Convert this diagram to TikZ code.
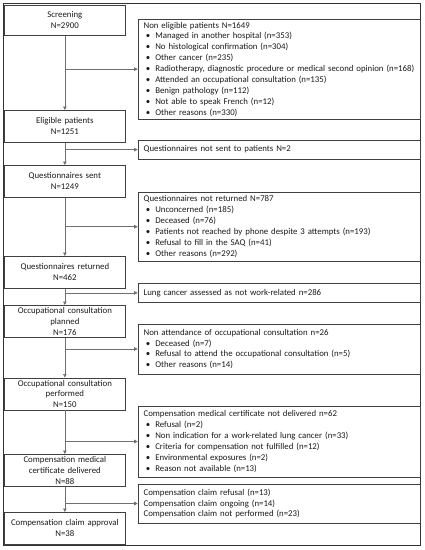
\documentclass[tikz,border=0pt]{standalone}
\usepackage{fontspec}
\setmainfont{Carlito}
\usetikzlibrary{arrows.meta}
\definecolor{boxc}{HTML}{404040}
\definecolor{connc}{HTML}{707070}
\definecolor{framec}{HTML}{333333}
\definecolor{txtc}{HTML}{1A1A1A}
\newcommand{\fs}{\fontsize{8.8pt}{10.9pt}\selectfont}
\newcommand{\bitem}[1]{\hspace*{2.2pt}\makebox[9.5pt][l]{•}#1}
\begin{document}
\begin{tikzpicture}[x=1pt,y=-1pt,
  lbox/.style={draw=boxc, line width=0.8pt, minimum width=120.3pt, text width=118pt, align=center, inner sep=1pt, minimum height=32pt, anchor=north, font=\fs, text=txtc},
  rbox/.style={draw=boxc, line width=0.8pt, minimum width=282.3pt, text width=271.3pt, align=left, inner xsep=5.5pt, inner ysep=1pt, anchor=west, font=\fs, text=txtc},
  conn/.style={draw=connc, line width=0.6pt, -{Triangle[length=3.5pt,width=3.5pt]}}
]
\useasboundingbox (0,0) rectangle (425,550);
\draw[framec, line width=1pt] (3,3.3) rectangle (420.7,545);

\node[lbox, minimum height=30.6pt] (s1) at (64.85,4.7) {Screening\\N=2900};
\node[lbox] (s2) at (64.85,110) {Eligible patients\\N=1251};
\node[lbox] (s3) at (64.85,165) {Questionnaires sent\\N=1249};
\node[lbox] (s4) at (64.85,256) {Questionnaires returned\\N=462};
\node[lbox] (s5) at (64.85,305) {Occupational consultation\\planned\\N=176};
\node[lbox] (s6) at (64.85,377.5) {Occupational consultation\\performed\\N=150};
\node[lbox] (s7) at (64.85,454) {Compensation medical\\certificate delivered\\N=88};
\node[lbox] (s8) at (64.85,512) {Compensation claim approval\\N=38};

\node[rbox, minimum height=99.7pt] (r1) at (137.7,69.15) {Non eligible patients N=1649\\
\bitem{Managed in another hospital (n=353)}\\
\bitem{No histological confirmation (n=304)}\\
\bitem{Other cancer (n=235)}\\
\bitem{Radiotherapy, diagnostic procedure or medical second opinion (n=168)}\\
\bitem{Attended an occupational consultation (n=135)}\\
\bitem{Benign pathology (n=112)}\\
\bitem{Not able to speak French (n=12)}\\
\bitem{Other reasons (n=330)}};
\node[rbox, minimum height=19.3pt] (r2) at (137.7,149.65) {Questionnaires not sent to patients N=2};
\node[rbox, minimum height=69.5pt] (r3) at (137.7,226.75) {Questionnaires not returned N=787\\
\bitem{Unconcerned (n=185)}\\
\bitem{Deceased (n=76)}\\
\bitem{Patients not reached by phone despite 3 attempts (n=193)}\\
\bitem{Refusal to fill in the SAQ (n=41)}\\
\bitem{Other reasons (n=292)}};
\node[rbox, minimum height=19.2pt] (r4) at (137.7,292.9) {Lung cancer assessed as not work-related n=286};
\node[rbox, minimum height=50pt] (r5) at (137.7,349) {Non attendance of occupational consultation n=26\\
\bitem{Deceased (n=7)}\\
\bitem{Refusal to attend the occupational consultation (n=5)}\\
\bitem{Other reasons (n=14)}};
\node[rbox, minimum height=71pt] (r6) at (137.7,441.5) {Compensation medical certificate not delivered\ n=62\\
\bitem{Refusal (n=2)}\\
\bitem{Non indication for a work-related lung cancer (n=33)}\\
\bitem{Criteria for compensation not fulfilled (n=12)}\\
\bitem{Environmental exposures (n=2)}\\
\bitem{Reason not available (n=13)}};
\node[rbox, minimum height=39pt] (r7) at (137.7,503.5) {Compensation claim refusal (n=13)\\
Compensation claim ongoing (n=14)\\
Compensation claim not performed (n=23)};

\draw[conn] (s1.south) -- (s2.north);
\draw[conn] (s2.south) -- (s3.north);
\draw[conn] (s3.south) -- (s4.north);
\draw[conn] (s4.south) -- (s5.north);
\draw[conn] (s5.south) -- (s6.north);
\draw[conn] (s6.south) -- (s7.north);
\draw[conn] (s7.south) -- (s8.north);
\draw[conn] (s1.south |- r1.west) -- (r1.west);
\draw[conn] (s2.south |- r2.west) -- (r2.west);
\draw[conn] (s3.south |- r3.west) -- (r3.west);
\draw[conn] (s4.south |- r4.west) -- (r4.west);
\draw[conn] (s5.south |- r5.west) -- (r5.west);
\draw[conn] (s6.south |- r6.west) -- (r6.west);
\draw[conn] (s7.south |- r7.west) -- (r7.west);
\end{tikzpicture}
\end{document}
